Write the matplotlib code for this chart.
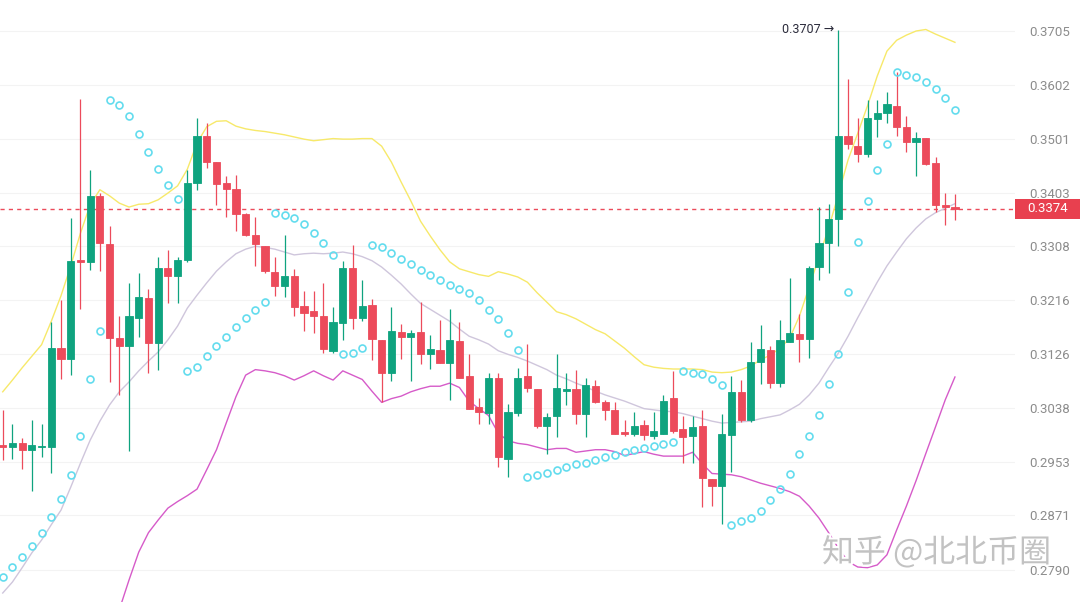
import numpy as np
import matplotlib
matplotlib.use('Agg')
import matplotlib.pyplot as plt
import matplotlib.transforms as mtransforms
import matplotlib.patheffects as pe
from matplotlib.patches import Rectangle
from matplotlib.ticker import NullLocator, NullFormatter

plt.rcParams['font.family'] = ['Roboto', 'DejaVu Sans']

# candle data (one per bar, oldest first)
opens = [.2979, .2977, .2983, .2972, .2976, .2977, .3136, .3117, .3285, .3280,
         .3396, .3312, .3152, .3138, .3186, .3219, .3143, .3270, .3257, .3284,
         .3420, .3506, .3458, .3420, .3410, .3365, .3328, .3309, .3264, .3240,
         .3257, .3205, .3197, .3189, .3130, .3177, .3270, .3185, .3207, .3148,
         .3094, .3162, .3153, .3162, .3126, .3132, .3111, .3147, .3089, .3040,
         .3030, .3086, .2957, .3030, .3089, .3069, .3010, .3026, .3065, .3069,
         .3029, .3074, .3047, .3035, .3000, .2997, .3011, .2994, .2997, .3054,
         .3004, .2994, .3010, .2927, .2916, .2995, .3063, .3019, .3113, .3132,
         .3078, .3146, .3159, .3150, .3272, .3314, .3356, .3505, .3488, .3473,
         .3537, .3548, .3562, .3522, .3494, .3502, .3456, .3380, .3377]
highs = [.3035, .3012, .2991, .3019, .3013, .3178, .3215, .3357, .3574, .3444,
         .3402, .3344, .3188, .3245, .3262, .3235, .3290, .3302, .3290, .3444,
         .3539, .3530, .3458, .3433, .3435, .3367, .3360, .3309, .3290, .3328,
         .3268, .3231, .3231, .3245, .3204, .3283, .3310, .3249, .3218, .3148,
         .3204, .3175, .3165, .3212, .3157, .3182, .3200, .3179, .3125, .3054,
         .3094, .3094, .3045, .3103, .3142, .3069, .3030, .3126, .3094, .3100,
         .3087, .3083, .3051, .3048, .3019, .3032, .3019, .3031, .3059, .3098,
         .3025, .3025, .3034, .2927, .3028, .3089, .3083, .3145, .3174, .3139,
         .3182, .3254, .3192, .3273, .3378, .3383, .3707, .3612, .3540, .3573,
         .3573, .3588, .3626, .3543, .3514, .3502, .3467, .3403, .3400]
lows = [.2956, .2958, .2942, .2908, .2960, .2936, .3085, .3091, .3200, .3267,
        .3266, .3080, .3059, .2970, .3154, .3095, .3100, .3211, .3210, .3281,
        .3408, .3447, .3381, .3360, .3335, .3326, .3274, .3261, .3223, .3220,
        .3189, .3163, .3160, .3127, .3127, .3148, .3167, .3181, .3116, .3047,
        .3082, .3117, .3082, .3109, .3101, .3111, .3051, .3086, .3037, .3012,
        .3013, .2945, .2929, .3025, .3063, .3006, .2966, .2992, .3043, .3013,
        .2992, .3046, .3019, .2997, .2994, .2994, .2987, .2989, .2997, .2998,
        .2952, .2951, .2883, .2885, .2858, .2938, .3015, .3016, .3077, .3070,
        .3071, .3146, .3113, .3119, .3250, .3261, .3309, .3481, .3459, .3468,
        .3503, .3530, .3505, .3476, .3432, .3453, .3368, .3345, .3354]
closes = [.2976, .2982, .2972, .2980, .2978, .3135, .3117, .3283, .3281, .3396,
          .3313, .3152, .3138, .3189, .3220, .3143, .3270, .3257, .3284, .3420,
          .3505, .3459, .3418, .3410, .3364, .3328, .3312, .3265, .3240, .3257,
          .3204, .3194, .3189, .3134, .3178, .3270, .3185, .3206, .3150, .3094,
          .3164, .3153, .3161, .3126, .3134, .3111, .3149, .3086, .3037, .3031,
          .3086, .2960, .3031, .3086, .3070, .3010, .3023, .3070, .3069, .3029,
          .3075, .3047, .3034, .2997, .2997, .3010, .2995, .3002, .3050, .3002,
          .2992, .3007, .2928, .2915, .2996, .3063, .3019, .3113, .3134, .3078,
          .3149, .3161, .3150, .3271, .3314, .3356, .3506, .3491, .3473, .3539,
          .3548, .3565, .3522, .3494, .3502, .3455, .3380, .3377, .3374]

# bollinger bands
bb_upper = [.3064, .3083, .3103, .3122, .3141, .3180, .3223, .3274, .3331, .3381,
            .3408, .3397, .3384, .3377, .3382, .3383, .3390, .3402, .3415, .3445,
            .3493, .3523, .3533, .3534, .3524, .3519, .3516, .3514, .3511, .3508,
            .3504, .3500, .3497, .3499, .3501, .3500, .3500, .3501, .3501, .3487,
            .3458, .3422, .3388, .3352, .3326, .3302, .3281, .3269, .3264, .3259,
            .3256, .3264, .3260, .3255, .3246, .3228, .3212, .3196, .3191, .3184,
            .3175, .3166, .3159, .3147, .3135, .3121, .3108, .3104, .3102, .3101,
            .3101, .3101, .3100, .3096, .3095, .3096, .3100, .3106, .3116, .3124,
            .3135, .3152, .3189, .3238, .3289, .3340, .3399, .3462, .3511, .3562,
            .3618, .3666, .3687, .3697, .3705, .3708, .3699, .3691, .3683]
bb_mid = [.2756, .2772, .2793, .2815, .2834, .2857, .2879, .2914, .2951, .2987,
          .3017, .3043, .3064, .3080, .3098, .3114, .3129, .3149, .3172, .3202,
          .3224, .3245, .3265, .3281, .3295, .3303, .3308, .3306, .3303, .3298,
          .3293, .3295, .3296, .3295, .3296, .3298, .3295, .3290, .3283, .3272,
          .3258, .3243, .3226, .3210, .3200, .3190, .3180, .3167, .3155, .3149,
          .3142, .3131, .3125, .3120, .3114, .3107, .3100, .3091, .3085, .3078,
          .3072, .3065, .3059, .3054, .3049, .3043, .3037, .3035, .3033, .3032,
          .3029, .3025, .3021, .3017, .3014, .3015, .3016, .3017, .3021, .3024,
          .3027, .3035, .3044, .3059, .3078, .3103, .3127, .3155, .3186, .3216,
          .3246, .3274, .3298, .3321, .3340, .3356, .3367, .3375, .3383]
nan = np.nan
bb_lower = [nan, nan, nan, nan, nan, nan, nan, nan, nan, nan,
            nan, nan, .2732, .2775, .2816, .2845, .2864, .2882, .2892, .2901,
            .2911, .2941, .2972, .3014, .3056, .3091, .3100, .3098, .3095, .3090,
            .3083, .3090, .3098, .3090, .3083, .3098, .3091, .3084, .3065, .3047,
            .3053, .3057, .3064, .3069, .3073, .3073, .3078, .3071, .3049, .3037,
            .3026, .2998, .2986, .2982, .2980, .2976, .2972, .2974, .2974, .2968,
            .2970, .2972, .2972, .2969, .2963, .2966, .2969, .2965, .2962, .2962,
            .2962, .2968, .2950, .2935, .2934, .2933, .2930, .2925, .2920, .2916,
            .2912, .2907, .2900, .2885, .2867, .2845, .2822, .2802, .2794, .2793,
            .2797, .2812, .2849, .2885, .2924, .2966, .3008, .3051, .3088]
# parabolic SAR dots
psar = [.2780, .2794, .2809, .2825, .2845, .2869, .2896, .2933, .2993, .3085,
        .3164, .3573, .3563, .3543, .3509, .3477, .3446, .3417, .3391, .3098,
        .3105, .3122, .3139, .3154, .3170, .3185, .3199, .3213, .3366, .3363,
        .3358, .3347, .3332, .3314, .3293, .3125, .3128, .3135, .3310, .3306,
        .3296, .3286, .3277, .3267, .3258, .3250, .3241, .3234, .3227, .3215,
        .3199, .3184, .3160, .3132, .2929, .2932, .2936, .2941, .2945, .2949,
        .2952, .2956, .2960, .2964, .2968, .2972, .2975, .2978, .2981, .2984,
        .3098, .3095, .3093, .3084, .3075, .2856, .2862, .2867, .2878, .2895,
        .2911, .2934, .2966, .2994, .3027, .3076, .3125, .3230, .3316, .3387,
        .3444, .3491, .3625, .3621, .3616, .3606, .3594, .3576, .3554]

ytick_vals = [0.2790, 0.2871, 0.2953, 0.3038, 0.3126, 0.3216, 0.3308,
              0.3403, 0.3501, 0.3602, 0.3705]
last_price = 0.3374
peak_price = 0.3707
peak_index = 86

up_color = '#0fa37f'
down_color = '#ec4b5b'

fig = plt.figure(figsize=(10.8, 6.02), dpi=100)
ax = fig.add_axes([0, 0, 1015 / 1080, 1])
ax.set_yscale('log')

o = np.array(opens)
h = np.array(highs)
l = np.array(lows)
c = np.array(closes)
x = np.arange(len(c))
cols = np.where(c >= o, up_color, down_color)

# bands first, so candles sit on top
ax.plot(x, bb_upper, color='#f7e96a', lw=1.0, zorder=2)
ax.plot(x, bb_mid, color='#cfc6dc', lw=1.0, zorder=2)
ax.plot(x, bb_lower, color='#d65bc9', lw=1.0, zorder=2)

# candles
ax.vlines(x, l, h, colors=cols, lw=0.9, zorder=3)
ax.bar(x, np.abs(c - o), bottom=np.minimum(o, c), width=0.74, color=cols,
       edgecolor=cols, linewidth=0.6, zorder=4)

# parabolic sar
ax.plot(x, psar, 'o', mfc='none', mec='#63dcee', ms=5, mew=1.2, zorder=5)

# last price line + label box
ax.axhline(last_price, color=down_color, ls=(0, (3, 3)), lw=1.0, zorder=1)
trans = mtransforms.blended_transform_factory(fig.transFigure, ax.transData)
box = Rectangle((1015 / 1080, last_price / 1.0053), 65 / 1080,
                last_price * 1.0053 - last_price / 1.0053, transform=trans,
                facecolor='#e8404f', edgecolor='none', clip_on=False, zorder=6)
fig.patches.append(box)
fig.text(1048 / 1080, last_price, '%.4f' % last_price, transform=trans,
         ha='center', va='center', color='white', fontsize=9.5, zorder=7)

# high marker
ax.text(peak_index - 0.45, peak_price, '%.4f \u2192' % peak_price, ha='right',
        va='center', fontsize=9, color='#2b2b3b')

# axes cosmetics
ax.set_xlim(-0.28, 104.18)
ax.set_ylim(0.2743, 0.3766)
ax.set_yticks(ytick_vals)
ax.set_yticklabels(['%.4f' % v for v in ytick_vals])
ax.yaxis.set_minor_locator(NullLocator())
ax.yaxis.set_minor_formatter(NullFormatter())
ax.yaxis.tick_right()
ax.tick_params(axis='y', length=0, pad=10, labelsize=9.5, labelcolor='#8c8c8c')
ax.set_xticks([])
for s in ax.spines.values():
    s.set_visible(False)
ax.grid(axis='y', color='#f3f3f3', lw=0.8, zorder=0)

# watermark (sits over the chart like in the source screenshot)
fig.text(822 / 1080, 49 / 602, '知乎 @北北币圈', fontsize=23, color='#c2c2c2',
         va='center', ha='left', family=['Noto Sans CJK SC', 'DejaVu Sans'],
         path_effects=[pe.withStroke(linewidth=3, foreground='white')], zorder=10)

fig.savefig('out.png', dpi=100, facecolor='white')
